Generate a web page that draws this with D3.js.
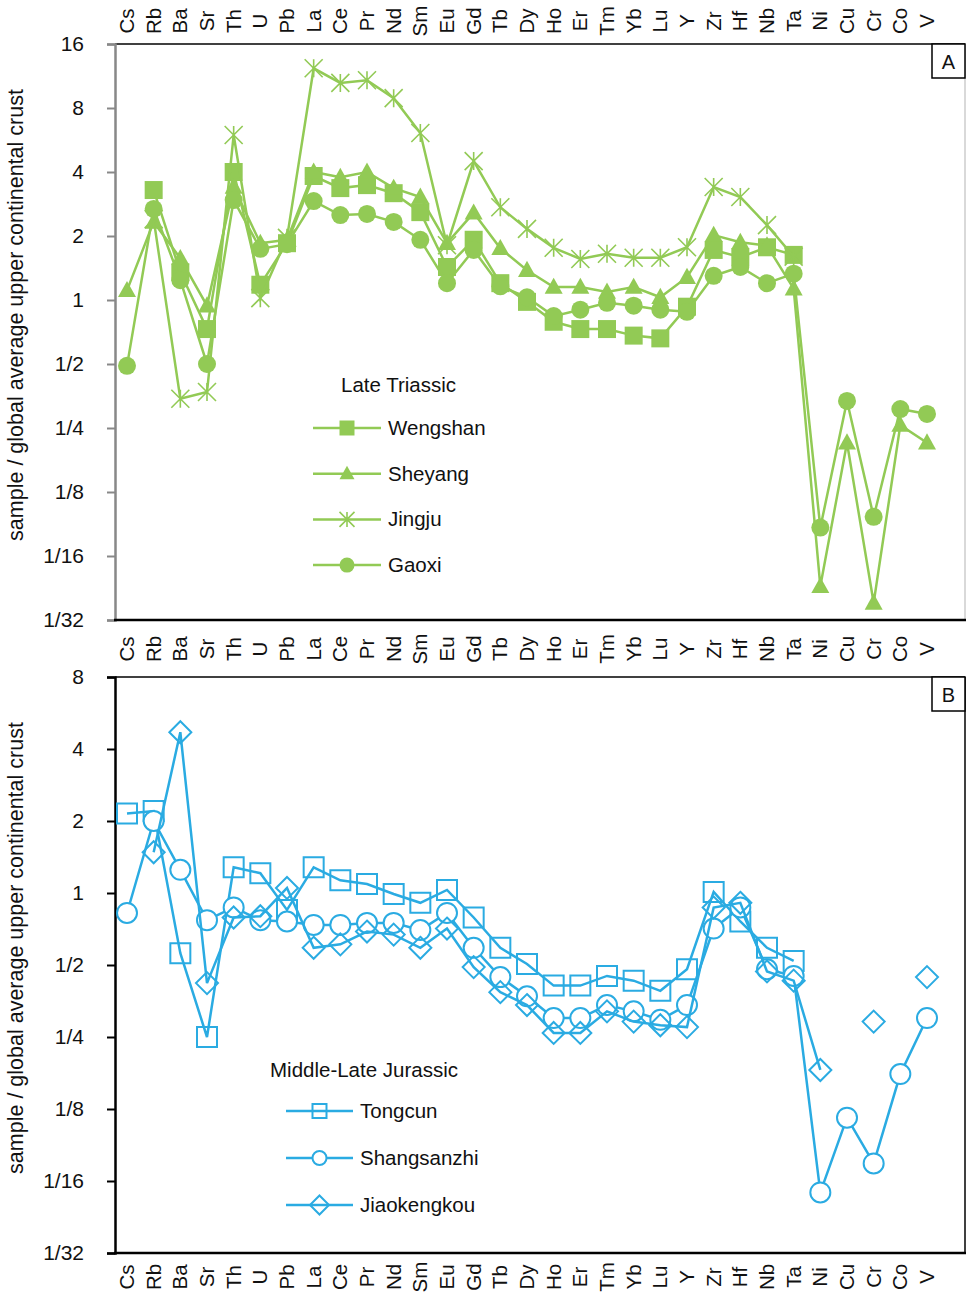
<!DOCTYPE html>
<meta charset="utf-8">
<script src="https://d3js.org/d3.v7.min.js"></script>
<style>
  body { margin: 0; background: #fff; }
  text { font-family: "Liberation Sans", Arial, sans-serif; fill: #111; }
</style>

<div id="my_dataviz"></div>

<script>

  // categories (elements) along the x axis
  var elements = ["Cs", "Rb", "Ba", "Sr", "Th", "U", "Pb", "La", "Ce", "Pr", "Nd", "Sm", "Eu", "Gd", "Tb",
    "Dy", "Ho", "Er", "Tm", "Yb", "Lu", "Y", "Zr", "Hf", "Nb", "Ta", "Ni", "Cu", "Cr", "Co", "V"];

  // panel A - Late Triassic
  var wengshan = [null, 3.29, 1.35, 0.73, 4.0, 1.18, 1.85, 3.83, 3.36, 3.47, 3.18, 2.59, 1.43, 1.92, 1.2,
    0.98, 0.79, 0.73, 0.73, 0.68, 0.66, 0.93, 1.72, 1.59, 1.77, 1.63, null, null, null, null, null];
  var sheyang = [1.11, 2.33, 1.57, 0.94, 3.4, 1.85, 1.92, 4.0, 3.78, 4.0, 3.36, 3.05, 1.85, 2.57, 1.75,
    1.38, 1.15, 1.15, 1.09, 1.15, 1.03, 1.28, 2.02, 1.87, 1.8, 1.13, 0.045, 0.213, 0.0376, 0.258, 0.213];
  var jingju = [null, 2.4, 0.343, 0.369, 5.97, 1.02, 1.96, 12.3, 10.5, 10.8, 8.9, 6.1, 1.81, 4.5, 2.73,
    2.16, 1.76, 1.56, 1.65, 1.58, 1.58, 1.77, 3.4, 3.05, 2.25, 1.6, null, null, null, null, null];
  var gaoxi = [0.49, 2.68, 1.24, 0.5, 2.95, 1.74, 1.83, 2.92, 2.51, 2.54, 2.33, 1.92, 1.2, 1.72, 1.16,
    1.03, 0.84, 0.9, 0.97, 0.94, 0.9, 0.88, 1.3, 1.43, 1.2, 1.33, 0.085, 0.335, 0.0955, 0.307, 0.291];

  // panel B - Middle-Late Jurassic
  var tongcun = [2.15, 2.2, 0.56, 0.25, 1.28, 1.21, 0.85, 1.28, 1.13, 1.09, 0.99, 0.91, 1.03, 0.79, 0.59,
    0.505, 0.41, 0.41, 0.45, 0.43, 0.39, 0.48, 1.01, 0.76, 0.59, 0.52, null, null, null, null, null];
  var shangsanzhi = [0.825, 2.0, 1.25, 0.77, 0.87, 0.77, 0.76, 0.735, 0.735, 0.75, 0.75, 0.70, 0.825, 0.59, 0.445,
    0.37, 0.30, 0.30, 0.34, 0.32, 0.295, 0.34, 0.71, 0.87, 0.48, 0.45, 0.056, 0.115, 0.074, 0.175, 0.30];
  var jiaokengkou = [null, 1.48, 4.7, 0.42, 0.79, 0.8, 1.05, 0.59, 0.61, 0.69, 0.67, 0.59, 0.71, 0.49, 0.385,
    0.34, 0.26, 0.26, 0.32, 0.29, 0.28, 0.275, 0.87, 0.91, 0.47, 0.43, 0.182, null, 0.29, null, 0.445];

  var ticksA = [1 / 32, 1 / 16, 1 / 8, 1 / 4, 1 / 2, 1, 2, 4, 8, 16];
  var ticksB = [1 / 32, 1 / 16, 1 / 8, 1 / 4, 1 / 2, 1, 2, 4, 8];

  var green = "#92CA55", blue = "#2AABE2";

  var svg = d3.select("#my_dataviz")
    .append("svg")
    .attr("width", 966)
    .attr("height", 1295);

  var x = d3.scalePoint().domain(elements).range([127, 927]);

  function fmt(v) { return v >= 1 ? String(v) : "1/" + Math.round(1 / v); }

  // marker path, r = half size
  function shape(type, r) {
    if (type == "square") return "M" + (-r) + "," + (-r) + "h" + 2 * r + "v" + 2 * r + "h" + (-2 * r) + "Z";
    if (type == "triangle") return "M0," + (-r * 1.05) + "L" + r + "," + r * 0.75 + "L" + (-r) + "," + r * 0.75 + "Z";
    if (type == "diamond") return "M0," + (-r) + "L" + r + ",0L0," + r + "L" + (-r) + ",0Z";
    if (type == "asterisk") return "M" + (-r) + "," + (-r) + "L" + r + "," + r + "M" + r + "," + (-r) + "L" + (-r) + "," + r + "M0," + (-r) + "L0," + r;
    return null;
  }

  function marker(g, type, cx, cy, r, color, filled) {
    if (type == "circle") {
      g.append("circle").attr("cx", cx).attr("cy", cy).attr("r", r)
        .attr("fill", filled ? color : "#fff").attr("stroke", color).attr("stroke-width", filled ? 0 : 2);
    } else if (type == "asterisk") {
      g.append("path").attr("transform", "translate(" + cx + "," + cy + ")").attr("d", shape(type, r))
        .attr("fill", "none").attr("stroke", color).attr("stroke-width", 1.6);
    } else {
      g.append("path").attr("transform", "translate(" + cx + "," + cy + ")").attr("d", shape(type, r))
        .attr("fill", filled ? color : "none").attr("stroke", color).attr("stroke-width", filled ? 0 : 2);
    }
  }

  function panel(p) {
    var y = d3.scaleLog().base(2).domain([p.ticks[0], p.ticks[p.ticks.length - 1]]).range([p.bottom, p.top]);
    var g = svg.append("g");

    // frame
    g.append("line").attr("x1", 115).attr("x2", 965).attr("y1", p.top).attr("y2", p.top)
      .attr("stroke", "#000").attr("stroke-width", 1.5);
    g.append("line").attr("x1", 965).attr("x2", 965).attr("y1", p.top).attr("y2", p.bottom)
      .attr("stroke", p.rightColor).attr("stroke-width", 1.5);

    // y axis
    var yAxis = g.append("g").attr("transform", "translate(115,0)")
      .call(d3.axisLeft(y).tickValues(p.ticks).tickFormat(fmt).tickSize(8).tickPadding(23));
    yAxis.select(".domain").attr("stroke", p.axisColor).attr("stroke-width", 2.5);
    yAxis.selectAll(".tick line").attr("stroke", p.axisColor).attr("stroke-width", 2);
    yAxis.selectAll(".tick text").attr("font-size", 21).attr("fill", "#111")
      .style("font-family", "Liberation Sans, Arial, sans-serif");

    g.append("line").attr("x1", 114).attr("x2", 966).attr("y1", p.bottom).attr("y2", p.bottom)
      .attr("stroke", "#000").attr("stroke-width", 2.5);

    // y axis title
    g.append("text")
      .attr("transform", "translate(23," + ((p.top + p.bottom) / 2 - 17) + ") rotate(-90)")
      .attr("text-anchor", "middle")
      .attr("font-size", 21.5)
      .text("sample / global average upper continental crust");

    // category labels
    p.labelRows.forEach(function (ly) {
      g.append("g").selectAll("text")
        .data(elements)
        .enter()
        .append("text")
        .attr("transform", function (d) { return "translate(" + (x(d) + 7) + "," + ly + ") rotate(-90)"; })
        .attr("text-anchor", "middle")
        .attr("font-size", 20.5)
        .text(function (d) { return d; });
    });

    // letter box
    g.append("rect").attr("x", 932).attr("y", p.top).attr("width", 33).attr("height", 34)
      .attr("fill", "#fff").attr("stroke", "#000").attr("stroke-width", 1.5);
    g.append("text").attr("x", 948.5).attr("y", p.top + 25).attr("text-anchor", "middle")
      .attr("font-size", 20).text(p.letter);

    // series
    var line = d3.line()
      .defined(function (d) { return d != null; })
      .x(function (d, i) { return x(elements[i]); })
      .y(function (d) { return y(d); });

    p.series.forEach(function (s) {
      g.append("path")
        .datum(s.values)
        .attr("d", line)
        .attr("fill", "none")
        .attr("stroke", p.color)
        .attr("stroke-width", 2.5);
      var mg = g.append("g");
      s.values.forEach(function (v, i) {
        if (v == null) return;
        marker(mg, s.shape, x(elements[i]), y(v), s.r || p.markR, p.color, p.filled);
      });
    });

    // legend
    g.append("text").attr("x", p.legX).attr("y", p.legTitleY).attr("font-size", 20.5).attr("fill", "#222")
      .text(p.legTitle);
    p.series.forEach(function (s, i) {
      var ly = p.legY0 + i * p.legStep;
      g.append("line").attr("x1", p.legLine[0]).attr("x2", p.legLine[1]).attr("y1", ly).attr("y2", ly)
        .attr("stroke", p.color).attr("stroke-width", 2.5);
      marker(g, s.shape, (p.legLine[0] + p.legLine[1]) / 2, ly, s.legR || p.legR, p.color, p.filled);
      g.append("text").attr("x", p.legLine[1] + 7).attr("y", ly + 7).attr("font-size", 20.5).attr("fill", "#222")
        .text(s.name);
    });
  }

  panel({
    top: 44, bottom: 620, ticks: ticksA, letter: "A", color: green, filled: true,
    axisColor: "#888", rightColor: "#ccc", markR: 9, legR: 7.5,
    labelRows: [21, 649],
    series: [
      { name: "Wengshan", values: wengshan, shape: "square" },
      { name: "Sheyang", values: sheyang, shape: "triangle" },
      { name: "Jingju", values: jingju, shape: "asterisk" },
      { name: "Gaoxi", values: gaoxi, shape: "circle" }
    ],
    legTitle: "Late Triassic", legX: 341, legTitleY: 392,
    legLine: [313, 381], legY0: 428, legStep: 45.7
  });

  panel({
    top: 677, bottom: 1253, ticks: ticksB, letter: "B", color: blue, filled: false,
    axisColor: "#000", rightColor: "#000", markR: 10, legR: 7,
    labelRows: [1277],
    series: [
      { name: "Tongcun", values: tongcun, shape: "square" },
      { name: "Shangsanzhi", values: shangsanzhi, shape: "circle" },
      { name: "Jiaokengkou", values: jiaokengkou, shape: "diamond", r: 11, legR: 9.5 }
    ],
    legTitle: "Middle-Late Jurassic", legX: 270, legTitleY: 1077,
    legLine: [286, 353], legY0: 1111, legStep: 47
  });

</script>
